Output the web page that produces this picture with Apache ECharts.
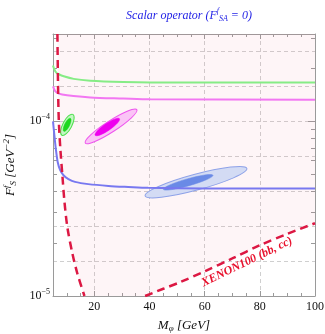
<!DOCTYPE html>
<html>
<head>
<meta charset="utf-8">
<script src="https://cdn.jsdelivr.net/npm/echarts@6/dist/echarts.min.js"></script>
<style>
  html, body { margin: 0; padding: 0; background: #fff; }
  #chart { width: 325px; height: 334px; }
</style>
</head>
<body>
<div id="chart"></div>
<script>
// axis ranges and ticks
const xMin = 5, xMax = 100;
const yMin = 1e-5, yMax = 3.162e-4;
const xMajorTicks = [20, 40, 60, 80, 100];
const xMinorTicks = [10, 15, 25, 30, 35, 45, 50, 55, 65, 70, 75, 85, 90, 95];
const yMajorTicks = [1e-5, 1e-4];
const yMinorTicks = [2e-5, 3e-5, 4e-5, 5e-5, 6e-5, 7e-5, 8e-5, 9e-5, 2e-4, 3e-4];
const yGridExp = [-5, -3.5, 0.2]; // dashed grid every 0.2 decade (exponent min, max, step)

// curves [M, F]
const greenLine = [[5, 2.09e-4], [5.5, 1.98e-4], [6.2, 1.90e-4], [7.1, 1.86e-4], [8.9, 1.81e-4], [12.5, 1.75e-4],
  [18.5, 1.71e-4], [30.5, 1.68e-4], [40.3, 1.67e-4], [100, 1.67e-4]];
const magentaLine = [[5, 1.585e-4], [5.8, 1.49e-4], [7.1, 1.44e-4], [10.1, 1.41e-4], [18.5, 1.37e-4],
  [30.5, 1.35e-4], [40.3, 1.336e-4], [100, 1.33e-4]];
const blueLine = [[5, 1e-4], [5.5, 8.32e-5], [6.0, 7.01e-5], [6.7, 5.85e-5], [7.6, 5.25e-5], [8.8, 4.91e-5],
  [10.6, 4.67e-5], [13, 4.5e-5], [17.8, 4.37e-5], [25.1, 4.27e-5], [32.3, 4.21e-5], [39.5, 4.16e-5],
  [60, 4.13e-5], [100, 4.12e-5]];
const xenonLeft = [[6.6, 3.162e-4], [6.8, 1.71e-4], [7.1, 1.01e-4], [7.7, 6.83e-5], [8.4, 4.91e-5], [9.1, 3.54e-5],
  [10.2, 2.48e-5], [12.0, 1.76e-5], [13.8, 1.35e-5], [16.4, 1.0e-5]];
const xenonRight = [[38.4, 1.0e-5], [45, 1.1e-5], [51.1, 1.2e-5], [60.2, 1.39e-5], [70, 1.64e-5],
  [80.1, 1.955e-5], [90, 2.27e-5], [100, 2.61e-5]];

// contours: major axis ends [x1, y1, x2, y2] and minor/major ratio
const greenContours = [[8.22, 8.32e-5, 12.2, 1.096e-4, 0.38], [8.95, 8.77e-5, 11.3, 1.04e-4, 0.34]];
const magentaContours = [[16.7, 7.51e-5, 35.4, 1.167e-4, 0.18], [20.3, 8.32e-5, 29.1, 1.035e-4, 0.24]];
const blueContours = [[38.4, 3.74e-5, 75.3, 5.37e-5, 0.15], [45.0, 4.08e-5, 63.0, 4.91e-5, 0.136]];

const serif = '"Liberation Serif", "DejaVu Serif", serif';
const frame = '#9a9a9a';

function ellipseRenderer(styles) {
  return function (params, api) {
    const p1 = api.coord([api.value(0), api.value(1)]);
    const p2 = api.coord([api.value(2), api.value(3)]);
    const dx = p2[0] - p1[0], dy = p2[1] - p1[1];
    const a = Math.sqrt(dx * dx + dy * dy) / 2;
    return {
      type: 'ellipse',
      x: (p1[0] + p2[0]) / 2,
      y: (p1[1] + p2[1]) / 2,
      rotation: -Math.atan2(dy, dx),
      shape: { cx: 0, cy: 0, rx: a, ry: a * api.value(4) },
      style: styles[params.dataIndex]
    };
  };
}

function contourSeries(data, styles) {
  return {
    type: 'custom', xAxisIndex: 0, yAxisIndex: 1, clip: true, z: 3,
    encode: { x: [0, 2], y: [1, 3] },
    renderItem: ellipseRenderer(styles),
    data: data
  };
}

function lineSeries(data, color) {
  return {
    type: 'line', xAxisIndex: 0, yAxisIndex: 1, data: data, smooth: 0.3,
    showSymbol: false, symbol: 'none', z: 4, clip: true,
    lineStyle: { color: color, width: 2 }
  };
}

function yTicks(position, values, len, extra) {
  return Object.assign({
    type: 'log', logBase: 10, min: yMin, max: yMax, position: position,
    axisLine: { show: false, onZero: false },
    axisTick: { inside: true, length: len, customValues: values, lineStyle: { color: frame } },
    axisLabel: { show: false },
    splitLine: { show: false }
  }, extra || {});
}

function xTicks(position, values, len, extra) {
  return Object.assign({
    type: 'value', min: xMin, max: xMax, position: position,
    axisLine: { show: false, onZero: false },
    axisTick: { inside: true, length: len, customValues: values, lineStyle: { color: frame } },
    axisLabel: { show: false },
    splitLine: { show: false }
  }, extra || {});
}

const chart = echarts.init(document.getElementById('chart'), null, { renderer: 'canvas' });

const supRich = {
  n: { fontFamily: serif, fontSize: 12, color: '#111' },
  sup: { fontFamily: serif, fontSize: 8, color: '#111', padding: [0, 0, 8, 0] }
};

chart.setOption({
  animation: false,
  backgroundColor: '#fff',
  title: {
    text: '{t|Scalar operator (F}{sup|f}{sub|SA}{t| = 0)}',
    left: 184, top: 2, textAlign: 'center',
    textStyle: {
      fontWeight: 'normal',
      rich: {
        t: { fontFamily: serif, fontStyle: 'italic', fontWeight: 'normal', fontSize: 12, color: '#2323e6' },
        sup: { fontFamily: serif, fontStyle: 'italic', fontWeight: 'normal', fontSize: 8, color: '#2323e6', padding: [0, 0, 9, 0] },
        sub: { fontFamily: serif, fontStyle: 'italic', fontWeight: 'normal', fontSize: 8, color: '#2323e6', padding: [7, 0, 0, 0] }
      }
    }
  },
  grid: { left: 53, right: 10, top: 34, bottom: 38, containLabel: false, outerBoundsMode: 'none' },
  xAxis: [
    xTicks('bottom', xMinorTicks, 3, {
      axisLine: { show: true, onZero: false, lineStyle: { color: frame, width: 1 } },
      axisLabel: { show: true, customValues: xMajorTicks, fontFamily: serif, fontSize: 12, color: '#111', margin: 5 },
      name: '{i|M}{sub|φ}{i| [GeV]}',
      nameLocation: 'middle', nameGap: 22,
      nameTextStyle: {
        rich: {
          i: { fontFamily: serif, fontStyle: 'italic', fontSize: 13, color: '#111' },
          sub: { fontFamily: serif, fontStyle: 'italic', fontSize: 9, color: '#111', padding: [6, 0, 0, 0] }
        }
      }
    }),
    xTicks('bottom', xMajorTicks, 5, {
      splitLine: { show: true, lineStyle: { color: '#cfcfcf', type: [4, 3], width: 1 } }
    }),
    xTicks('top', xMinorTicks, 3, {
      axisLine: { show: true, onZero: false, lineStyle: { color: frame, width: 1 } }
    }),
    xTicks('top', xMajorTicks, 5)
  ],
  yAxis: [
    {
      type: 'value', min: yGridExp[0], max: yGridExp[1], interval: yGridExp[2], position: 'left',
      axisLine: { show: false }, axisTick: { show: false }, axisLabel: { show: false },
      splitLine: { show: true, lineStyle: { color: '#cfcfcf', type: [4, 3], width: 1 } }
    },
    yTicks('left', yMinorTicks, 4, {
      axisLine: { show: true, onZero: false, lineStyle: { color: frame, width: 1 } },
      name: '{i|F}{sup|f}{sub|S}{i| [GeV}{sup|−2}{i|]}',
      nameLocation: 'middle', nameGap: 33, nameRotate: 90,
      nameTextStyle: {
        rich: {
          i: { fontFamily: serif, fontStyle: 'italic', fontSize: 13, color: '#111' },
          sup: { fontFamily: serif, fontStyle: 'italic', fontSize: 9, color: '#111', padding: [0, 0, 9, 0] },
          sub: { fontFamily: serif, fontStyle: 'italic', fontSize: 9, color: '#111', padding: [6, 0, 0, 0] }
        }
      }
    }),
    yTicks('left', yMajorTicks, 7, {
      axisLabel: {
        show: true, customValues: yMajorTicks, margin: 3,
        formatter: function (v) {
          const e = Math.round(Math.log10(v));
          return '{n|10}{sup|' + (e < 0 ? '−' + (-e) : e) + '}';
        },
        rich: supRich
      }
    }),
    yTicks('right', yMinorTicks, 4, {
      axisLine: { show: true, onZero: false, lineStyle: { color: frame, width: 1 } }
    }),
    yTicks('right', yMajorTicks, 7)
  ],
  graphic: [
    {
      type: 'text', x: 247, y: 262, rotation: 26 * Math.PI / 180, z: 100,
      style: {
        text: 'XENON100 (bb, cc)',
        font: 'italic bold 12px ' + serif,
        fill: '#e8112d',
        align: 'center', verticalAlign: 'middle',
        textAlign: 'center', textVerticalAlign: 'middle'
      }
    }
  ],
  series: [
    {
      // excluded region above the XENON100 curve
      type: 'custom', xAxisIndex: 0, yAxisIndex: 1, clip: true, z: 1, silent: true,
      data: [[xMin, yMin]],
      renderItem: function (params, api) {
        const pts = xenonLeft.concat(xenonRight).map(function (p) { return api.coord(p); });
        pts.push(api.coord([xMax, yMax]));
        pts.push(api.coord([xenonLeft[0][0], yMax]));
        return { type: 'polygon', shape: { points: pts }, style: { fill: 'rgba(235,120,140,0.07)' } };
      }
    },
    contourSeries(greenContours, [
      { fill: '#c4f7c4', stroke: '#4fe04f', lineWidth: 1 },
      { fill: '#1ed81e', stroke: '#1ed81e', lineWidth: 0.5 }
    ]),
    contourSeries(magentaContours, [
      { fill: '#fac4f6', stroke: '#ee55ee', lineWidth: 1 },
      { fill: '#ee00ee', stroke: '#ee00ee', lineWidth: 0.5 }
    ]),
    contourSeries(blueContours, [
      { fill: '#d3dbf4', stroke: '#8ea2e8', lineWidth: 1 },
      { fill: '#6a8ae6', stroke: '#6a8ae6', lineWidth: 0.5 }
    ]),
    lineSeries(greenLine, '#86ec86'),
    lineSeries(magentaLine, '#f277f2'),
    lineSeries(blueLine, '#7878f0'),
    {
      type: 'line', xAxisIndex: 0, yAxisIndex: 1, data: xenonLeft, smooth: 0.3, showSymbol: false, symbol: 'none',
      z: 5, clip: true, lineStyle: { color: '#dc1843', width: 2.5, type: [8, 5] }
    },
    {
      type: 'line', xAxisIndex: 0, yAxisIndex: 1, data: xenonRight, smooth: 0.3, showSymbol: false, symbol: 'none',
      z: 5, clip: true, lineStyle: { color: '#dc1843', width: 2.5, type: [8, 5] }
    }
  ]
});
</script>
</body>
</html>
